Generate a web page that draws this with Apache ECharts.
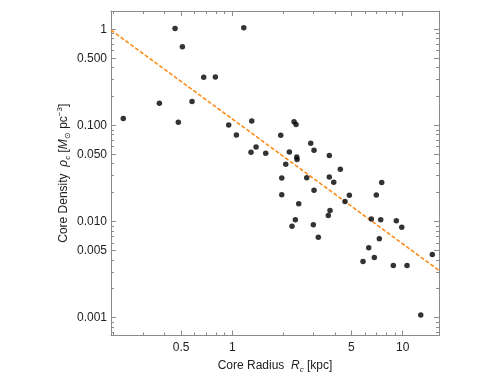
<!DOCTYPE html>
<html>
<head>
<meta charset="utf-8">
<script src="https://cdn.jsdelivr.net/npm/echarts@6/dist/echarts.min.js"></script>
<style>
  html, body { margin: 0; padding: 0; background: #fff; }
  #main { width: 498px; height: 382px; }
</style>
</head>
<body>
<div id="main"></div>
<script>
// core radius [kpc] and core density [Msun pc^-3]
const radius = [0.229, 0.373, 0.461, 0.482, 0.509, 0.580, 0.679, 0.795, 1.167, 0.952,
  1.056, 1.300, 1.287, 1.378, 1.570, 1.923, 2.058, 2.161, 1.950, 2.302,
  2.365, 2.388, 2.398, 2.885, 3.016, 3.709, 4.303, 3.709, 2.733, 1.950,
  2.453, 2.343, 2.240, 3.936, 3.016, 2.988, 3.196, 3.744, 3.659, 4.861,
  4.585, 7.000, 7.530, 6.543, 7.430, 7.290, 6.318, 5.848, 6.813, 9.170,
  9.870, 8.810, 10.60, 14.92, 12.76];
const density = [0.118, 0.170, 1.02, 0.108, 0.659, 0.1775, 0.316, 0.318, 1.04, 0.101,
  0.0796, 0.1114, 0.0526, 0.0597, 0.0513, 0.079, 0.0394, 0.0529, 0.0284, 0.1088,
  0.1022, 0.0469, 0.0441, 0.0652, 0.0551, 0.0485, 0.0349, 0.0290, 0.0286, 0.0190,
  0.01533, 0.01044, 0.00895, 0.0256, 0.0211, 0.00926, 0.00688, 0.01305, 0.01158, 0.01872,
  0.0162, 0.01886, 0.0254, 0.0106, 0.01044, 0.00662, 0.00533, 0.00384, 0.00422, 0.0102,
  0.00874, 0.00349, 0.00349, 0.00454, 0.001067];

// fitted power law, its two end points
const fitRadius = [0.194, 16.33];
const fitDensity = [0.98, 0.0031];

const xRange = [0.194, 16.33];
const yRange = [0.000652, 1.549];

const xMajor = [0.5, 1, 5, 10];
const xMajorLabels = ['0.5', '1', '5', '10'];
const xMinor = [0.2, 0.3, 0.4, 0.6, 0.7, 0.8, 0.9, 2, 3, 4, 6, 7, 8, 9];
const yMajor = [1, 0.5, 0.1, 0.05, 0.01, 0.005, 0.001];
const yMajorLabels = ['1', '0.500', '0.100', '0.050', '0.010', '0.005', '0.001'];
const yMinor = [0.0007, 0.0008, 0.0009, 0.002, 0.003, 0.004, 0.006, 0.007, 0.008, 0.009,
  0.02, 0.03, 0.04, 0.06, 0.07, 0.08, 0.09, 0.2, 0.3, 0.4, 0.6, 0.7, 0.8, 0.9];

const lg = Math.log10;
const key = v => v.toFixed(5);
function labelLookup(vals, labels) {
  let m = {};
  vals.forEach((v, i) => { m[key(lg(v))] = labels[i]; });
  return v => m[key(v)] || '';
}
const xLab = labelLookup(xMajor, xMajorLabels);
const yLab = labelLookup(yMajor, yMajorLabels);

const font = "'Liberation Sans', Arial, sans-serif";
const frame = '#8a8a8a';

function makeAxis(dim, pos, ticks, len, showLine, showLabel, extra) {
  const range = dim === 'x' ? xRange : yRange;
  let ax = {
    type: 'value',
    position: pos,
    min: lg(range[0]),
    max: lg(range[1]),
    splitLine: { show: false },
    axisLine: { show: showLine, onZero: false, lineStyle: { color: frame, width: 1 } },
    axisTick: {
      show: true, inside: true, length: len,
      customValues: ticks.map(lg),
      lineStyle: { color: frame, width: 1 }
    },
    axisLabel: { show: false }
  };
  if (showLabel) {
    ax.axisLabel = {
      show: true,
      customValues: (dim === 'x' ? xMajor : yMajor).map(lg),
      formatter: dim === 'x' ? xLab : yLab,
      color: '#222', fontFamily: font, fontSize: 12,
      margin: dim === 'x' ? 6 : 4
    };
  }
  return Object.assign(ax, extra || {});
}

const nameRich = {
  n: { fontFamily: font, fontSize: 12, color: '#222', lineHeight: 16 },
  i: { fontFamily: font, fontSize: 12, color: '#222', fontStyle: 'italic', lineHeight: 16 },
  sub: { fontFamily: font, fontSize: 8, color: '#222', verticalAlign: 'bottom' },
  subi: { fontFamily: font, fontSize: 8, color: '#222', verticalAlign: 'bottom', fontStyle: 'italic' },
  sup: { fontFamily: font, fontSize: 8, color: '#222', verticalAlign: 'top' }
};

let myChart = echarts.init(document.getElementById('main'));
myChart.setOption({
  backgroundColor: '#fff',
  animation: false,
  grid: { left: 111, right: 59, top: 11, bottom: 46.5, containLabel: false, outerBoundsMode: 'none' },
  xAxis: [
    makeAxis('x', 'bottom', xMajor, 5, true, true, {
      name: '{n|Core Radius  }{i|R}{subi|c}{n| [kpc]}',
      nameLocation: 'middle', nameGap: 22, nameMoveOverlap: false,
      nameTextStyle: { rich: nameRich }
    }),
    makeAxis('x', 'bottom', xMinor, 3, false, false),
    makeAxis('x', 'top', xMajor, 5, true, false),
    makeAxis('x', 'top', xMinor, 3, false, false)
  ],
  yAxis: [
    makeAxis('y', 'left', yMajor, 5, true, true, {
      name: '{n|Core Density  }{i|ρ}{subi|c}{n| [}{i|M}{sub|⊙}{n| pc}{sup|−3}{n|]}',
      nameLocation: 'middle', nameGap: 39, nameMoveOverlap: false,
      nameTextStyle: { rich: nameRich }
    }),
    makeAxis('y', 'left', yMinor, 3, false, false),
    makeAxis('y', 'right', yMajor, 5, true, false),
    makeAxis('y', 'right', yMinor, 3, false, false)
  ],
  series: [
    {
      type: 'line',
      data: fitRadius.map((r, i) => [lg(r), lg(fitDensity[i])]),
      showSymbol: false,
      lineStyle: { color: '#ff8c1a', width: 1.6, type: [4, 2] },
      z: 2
    },
    {
      type: 'scatter',
      data: radius.map((r, i) => [lg(r), lg(density[i])]),
      symbolSize: 5.5,
      itemStyle: { color: '#000' },
      z: 3
    }
  ]
});
</script>
</body>
</html>
